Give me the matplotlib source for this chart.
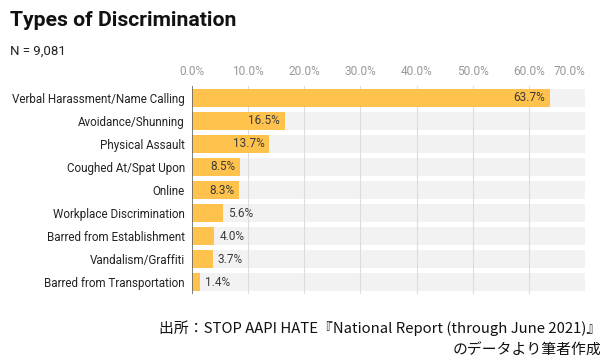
import matplotlib
matplotlib.use("Agg")
import matplotlib.pyplot as plt
from matplotlib.ticker import FuncFormatter

categories = ["Verbal Harassment/Name Calling", "Avoidance/Shunning", "Physical Assault",
              "Coughed At/Spat Upon", "Online", "Workplace Discrimination",
              "Barred from Establishment", "Vandalism/Graffiti", "Barred from Transportation"]
values = [63.7, 16.5, 13.7, 8.5, 8.3, 5.6, 4.0, 3.7, 1.4]
xticks = [0, 10, 20, 30, 40, 50, 60, 70]

plt.rcParams['font.family'] = ['Roboto', 'Noto Sans CJK JP', 'DejaVu Sans']

fig = plt.figure(figsize=(6, 3.62), dpi=100)
ax = fig.add_axes([192/600, 68/362, 393/600, 208/362])

bar_color = "#FFC34D"
h = 0.78
ys = list(range(len(categories)))
xmax = 70
# background bands
ax.barh(ys, [xmax]*len(ys), height=h, color="#f2f2f2", zorder=0)
for t in xticks[1:-1]:
    ax.axvline(t, color="#dcdcdc", lw=0.8, zorder=1)
ax.barh(ys, values, height=h, color=bar_color, zorder=2)
ax.axvline(0, color="#666666", lw=1.2, zorder=3)

for y, v in zip(ys, values):
    lab = f"{v:.1f}%"
    if v >= 8:
        ax.text(v - 0.8, y, lab, ha="right", va="center", fontsize=8.5, color="#3a3a3a", zorder=4)
    else:
        ax.text(v + 0.9, y, lab, ha="left", va="center", fontsize=8.5, color="#3a3a3a", zorder=4)

ax.set_xlim(0, xmax)
ax.set_ylim(len(categories) - 0.5, -0.5)
ax.set_yticks(ys)
ax.set_yticklabels(categories, fontsize=8.4, color="#222222")
ax.set_xticks(xticks)
ax.xaxis.set_major_formatter(FuncFormatter(lambda x, p: f"{x:.1f}%"))
ax.xaxis.tick_top()
ax.tick_params(axis="x", length=0, labelsize=8.6, labelcolor="#999999", pad=6)
ax.tick_params(axis="y", length=0, pad=5)
labs = ax.get_xticklabels()
labs[-1].set_horizontalalignment("right")
for s in ax.spines.values():
    s.set_visible(False)

fig.text(10/600, 1 - 21/362, "Types of Discrimination", fontsize=15.2, fontweight="bold",
         color="#111111", va="center", ha="left")
fig.text(10/600, 1 - 51/362, "N = 9,081", fontsize=9.5, color="#222222", va="center", ha="left")

fig.text(601/600, 1 - 328/362, "出所：STOP AAPI HATE『National Report (through June 2021)』",
         fontsize=10.7, color="#111111", ha="right", va="center",
         family=['Noto Sans CJK JP', 'DejaVu Sans'])
fig.text(601/600, 1 - 351/362, "のデータより筆者作成",
         fontsize=10.7, color="#111111", ha="right", va="center",
         family=['Noto Sans CJK JP', 'DejaVu Sans'])

fig.savefig("out.png", dpi=100)
